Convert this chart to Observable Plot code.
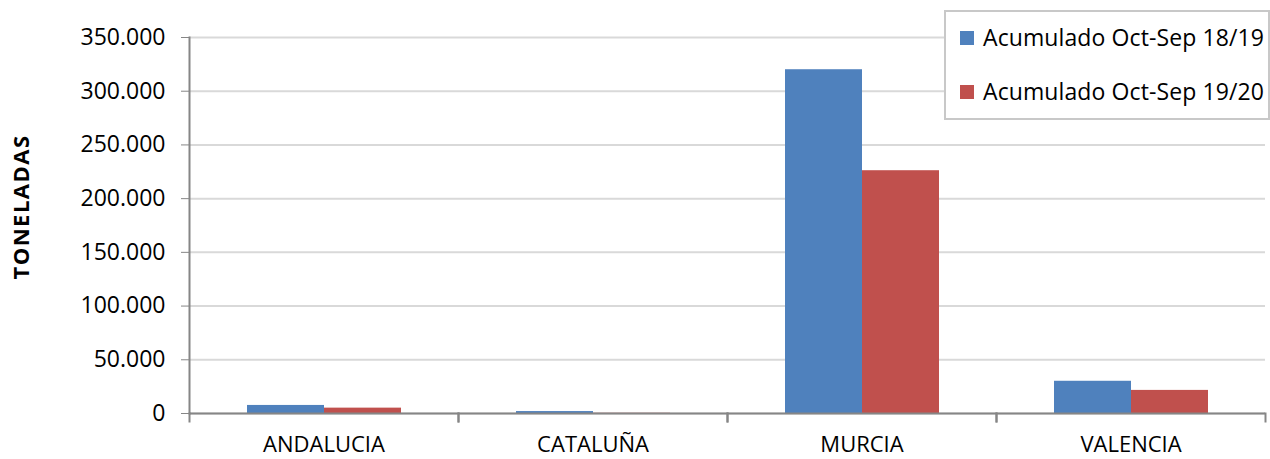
<!DOCTYPE html>
<html>
<head>
<meta charset="utf-8">
<script src="https://cdn.jsdelivr.net/npm/d3@7"></script>
<script src="https://cdn.jsdelivr.net/npm/@observablehq/plot@0.6"></script>
<style>
  html, body { margin: 0; padding: 0; background: #fff; }
  #wrap { position: relative; width: 1270px; height: 459px; font-family: "Open Sans", "Liberation Sans", sans-serif; }
  #wrap svg { display: block; }
  #ylab { position: absolute; left: 20px; top: 207px; transform: translate(-50%, -50%) rotate(-90deg);
          font-weight: bold; font-size: 22px; letter-spacing: 1.5px; white-space: nowrap; color: #000; }
  #legend { position: absolute; left: 944px; top: 10px; width: 322px; height: 106px; border: 2px solid #c8c8c8;
            background: #fff; box-sizing: content-box; }
  .item { position: absolute; left: 14px; display: flex; align-items: center; font-size: 23px; line-height: 31px; white-space: nowrap; color: #000; letter-spacing: 0.1px; }
  .sw { width: 14px; height: 14px; margin-right: 9px; }
</style>
</head>
<body>
<div id="wrap"></div>
<script>
const regions = ["ANDALUCIA", "CATALUÑA", "MURCIA", "VALENCIA"];
const series = ["Acumulado Oct-Sep 18/19", "Acumulado Oct-Sep 19/20"];
const values1819 = [7500, 1800, 320000, 30000];
const values1920 = [5000, 200, 226000, 21500];
const yTicks = [0, 50000, 100000, 150000, 200000, 250000, 300000, 350000];
const colors = ["#4f81bd", "#c0504d"];

const data = [];
regions.forEach((r, i) => {
  data.push({region: r, series: series[0], value: values1819[i]});
  data.push({region: r, series: series[1], value: values1920[i]});
});

const fmt = d => d3.format(",")(d).replace(/,/g, ".");

const chart = Plot.plot({
  width: 1270,
  height: 459,
  marginLeft: 187,
  marginRight: 4,
  marginTop: 37,
  marginBottom: 46,
  style: {fontFamily: "'Open Sans', 'Liberation Sans', sans-serif", fontSize: "22px", color: "#000", background: "#fff"},
  fx: {domain: regions, padding: 0, label: null, axis: null},
  x: {domain: series, paddingInner: 0, paddingOuter: 0.74, axis: null},
  y: {domain: [0, 350000], axis: null},
  color: {domain: series, range: colors},
  marks: [
    Plot.gridY(yTicks, {stroke: "#d9d9d9", strokeOpacity: 1, strokeWidth: 2}),
    Plot.barY(data, {fx: "region", x: "series", y: "value", fill: "series"}),
    Plot.ruleY([0], {stroke: "#868686", strokeWidth: 2}),
    Plot.frame({anchor: "left", stroke: "#868686", strokeWidth: 2, facetAnchor: "left"}),
    Plot.frame({anchor: "left", stroke: "#868686", strokeWidth: 2, insetTop: 376, insetBottom: -8}),
    Plot.frame({anchor: "right", stroke: "#868686", strokeWidth: 2, insetTop: 376, insetBottom: -8}),
    Plot.axisY(yTicks, {tickSize: 8, tickPadding: 16, tickFormat: fmt, stroke: "#868686", fill: "#000", label: null, facetAnchor: "left", fontSize: 23}),
    Plot.axisFx({anchor: "bottom", tickSize: 0, tickPadding: 23, label: null, fontSize: 22, fill: "#000"})
  ]
});

const wrap = document.getElementById("wrap");
wrap.appendChild(chart);

const ylab = document.createElement("div");
ylab.id = "ylab";
ylab.textContent = "TONELADAS";
wrap.appendChild(ylab);

const legend = document.createElement("div");
legend.id = "legend";
series.forEach((s, i) => {
  const it = document.createElement("div");
  it.className = "item";
  it.style.top = (i === 0 ? 10 : 64) + "px";
  const sw = document.createElement("span");
  sw.className = "sw";
  sw.style.background = colors[i];
  const tx = document.createElement("span");
  tx.textContent = s;
  it.appendChild(sw);
  it.appendChild(tx);
  legend.appendChild(it);
});
wrap.appendChild(legend);
</script>
</body>
</html>
